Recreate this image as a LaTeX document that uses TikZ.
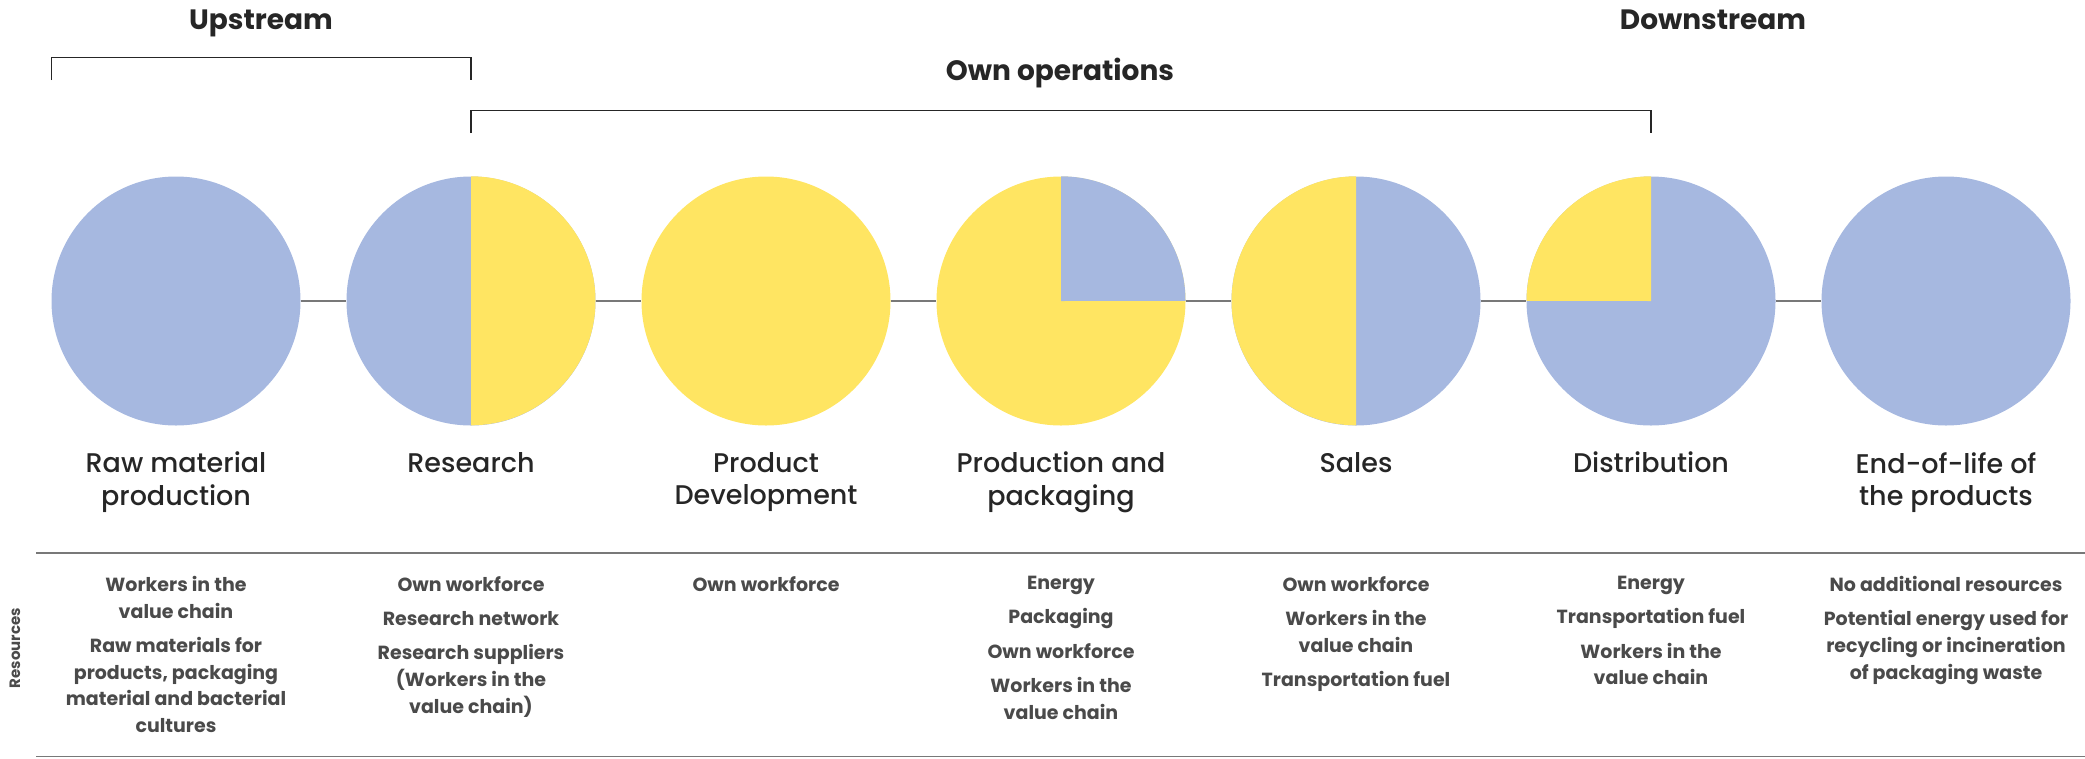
\documentclass[tikz,border=0pt]{standalone}
\usepackage{fontspec}
\setmainfont{Poppins}
\newfontfamily\stagefont{Poppins Medium}
\usetikzlibrary{positioning}
\definecolor{vc_blue}{RGB}{166, 184, 224}
\definecolor{vc_yellow}{RGB}{255, 229, 98}
\definecolor{vc_ink}{RGB}{38, 38, 38}
\definecolor{vc_grey}{RGB}{74, 74, 74}
\definecolor{vc_line}{RGB}{120, 120, 120}
\tikzstyle{bn}=[circle,fill=vc_blue,draw=none,inner sep=0pt,minimum size=249pt]
\tikzstyle{yn}=[circle,fill=vc_yellow,draw=none,inner sep=0pt,minimum size=249pt]
\tikzstyle{lbl}=[anchor=north,align=center,inner sep=0pt,text=vc_ink,
  font=\stagefont\fontsize{27}{32.5}\selectfont]
\tikzstyle{res}=[anchor=north,align=center,inner sep=0pt,text=vc_grey,
  font=\bfseries\fontsize{19}{26.7}\selectfont]
\tikzstyle{head}=[anchor=base,inner sep=0pt,text=vc_ink,
  font=\bfseries\fontsize{28}{32}\selectfont]
\tikzstyle{link}=[draw=vc_line,line width=1.4pt]
\tikzstyle{brace}=[draw=vc_ink,line width=1.3pt]
\tikzstyle{rule}=[draw=vc_line,line width=1.6pt]

\begin{document}
\begin{tikzpicture}[x=1pt,y=-1pt]
    \useasboundingbox (0,0) rectangle (2085,758);
    \node [style=bn] (raw) at (176,301) {};
    \node [style=bn] (res) at (471,301) {};
    \node [style=yn] (dev) at (766,301) {};
    \node [style=yn] (prod) at (1061,301) {};
    \node [style=bn] (sal) at (1356,301) {};
    \node [style=bn] (dis) at (1651,301) {};
    \node [style=bn] (eol) at (1946,301) {};
    \fill [vc_yellow] (res.north) arc[start angle=90,end angle=-90,radius=124.5pt] -- cycle;
    \fill [vc_blue] (prod.center) -- (prod.north) arc[start angle=90,end angle=0,radius=124.5pt] -- cycle;
    \fill [vc_yellow] (sal.north) arc[start angle=90,end angle=270,radius=124.5pt] -- cycle;
    \fill [vc_yellow] (dis.center) -- (dis.north) arc[start angle=90,end angle=180,radius=124.5pt] -- cycle;
    \draw [style=link] (raw) to (res);
    \draw [style=link] (res) to (dev);
    \draw [style=link] (dev) to (prod);
    \draw [style=link] (prod) to (sal);
    \draw [style=link] (sal) to (dis);
    \draw [style=link] (dis) to (eol);

    \node [style=head] (up) at (261,29.5) {Upstream};
    \node [style=head] (down) at (1713,29.5) {Downstream};
    \node [style=head] (own) at (1060,80) {Own operations};
    \draw [style=brace] (raw.west |- 0,80) |- (res.center |- 0,57.5) -- (res.center |- 0,80);
    \draw [style=brace] (res.center |- 0,133) |- (dis.center |- 0,110.5) -- (dis.center |- 0,133);

    \node [style=lbl] (rawl) at (176,452) {Raw material\\production};
    \node [style=lbl] (resl) at (471,452) {Research};
    \node [style=lbl] (devl) at (766,452) {Product\\Development};
    \node [style=lbl] (prodl) at (1061,452) {Production and\\packaging};
    \node [style=lbl] (sall) at (1356,452) {Sales};
    \node [style=lbl] (disl) at (1651,452) {Distribution};
    \node [style=lbl] (eoll) at (1946,452) {End-of-life of\\the products};

    \coordinate (top1) at (36,552.7);
    \coordinate (top2) at (2085,552.7);
    \coordinate (bot1) at (36,756.5);
    \coordinate (bot2) at (2085,756.5);
    \draw [style=rule] (top1) -- (top2);
    \draw [style=rule] (bot1) -- (bot2);
    \node [rotate=90,inner sep=0pt,text=vc_grey,font=\bfseries\fontsize{15}{18}\selectfont]
      (resources) at (15,648) {Resources};

    \node [style=res] (rawr) at (176,576) {Workers in the\\value chain\\[7.6pt]Raw materials for\\products, packaging\\material and bacterial\\cultures};
    \node [style=res] (resr) at (471,576) {Own workforce\\[7.6pt]Research network\\[7.6pt]Research suppliers\\(Workers in the\\value chain)};
    \node [style=res] (devr) at (766,576) {Own workforce};
    \node [style=res] (prodr) at (1061,576) {Energy\\[7.6pt]Packaging\\[7.6pt]Own workforce\\[7.6pt]Workers in the\\value chain};
    \node [style=res] (salr) at (1356,576) {Own workforce\\[7.6pt]Workers in the\\value chain\\[7.6pt]Transportation fuel};
    \node [style=res] (disr) at (1651,576) {Energy\\[7.6pt]Transportation fuel\\[7.6pt]Workers in the\\value chain};
    \node [style=res] (eolr) at (1946,576) {No additional resources\\[7.6pt]Potential energy used for\\recycling or incineration\\of packaging waste};
  \end{tikzpicture}
\end{document}
